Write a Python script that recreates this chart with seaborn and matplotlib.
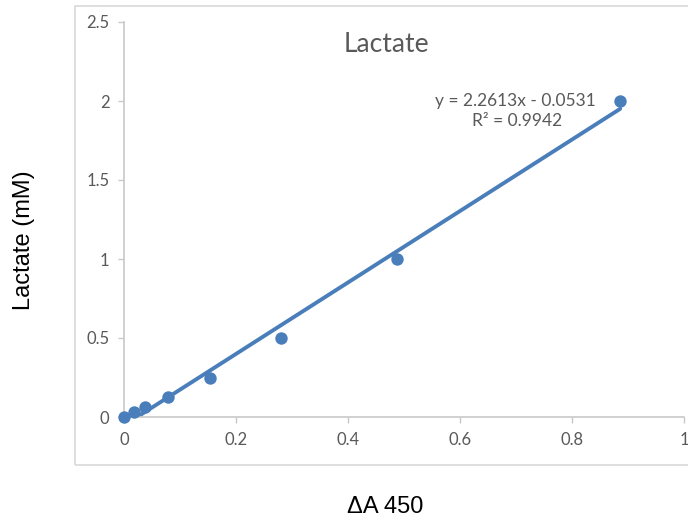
import matplotlib
matplotlib.use("Agg")
import matplotlib.pyplot as plt
import seaborn as sns
import pandas as pd
import numpy as np
from matplotlib.patches import Rectangle

# data
delta_a450 = [0.0, 0.018, 0.0375, 0.0786, 0.1536, 0.28, 0.4875, 0.886]
lactate_mM = [0.0, 0.03125, 0.0625, 0.125, 0.25, 0.5, 1.0, 2.0]
slope = 2.2613
intercept = -0.0531
r_squared = 0.9942
x_ticks = [0, 0.2, 0.4, 0.6, 0.8, 1]
x_tick_labels = ["0", "0.2", "0.4", "0.6", "0.8", "1"]
y_ticks = [0, 0.5, 1, 1.5, 2, 2.5]
y_tick_labels = ["0", "0.5", "1", "1.5", "2", "2.5"]

sns.set_theme(style="white")
plt.rcParams['font.family'] = ['Lato', 'DejaVu Sans']

df = pd.DataFrame({"x": delta_a450, "y": lactate_mM})
xs = np.array([min(delta_a450), max(delta_a450)])
trend = pd.DataFrame({"x": xs, "y": slope * xs + intercept})

blue = "#4a7ebb"
gray_text = "#595959"
axis_gray = "#c8c8c8"

W, H = 688, 521
fig = plt.figure(figsize=(W / 100, H / 100), dpi=100)
ax = fig.add_axes([124 / W, (H - 417) / H, 560 / W, (417 - 22) / H])

# chart area border
fig.patches.append(Rectangle((75 / W, (H - 465) / H), (700 - 75) / W, (465 - 6) / H,
                             transform=fig.transFigure, fill=False,
                             edgecolor="#d9d9d9", linewidth=1.2, zorder=0))

sns.lineplot(data=trend, x="x", y="y", ax=ax, color=blue, linewidth=2.8, zorder=2)
sns.scatterplot(data=df, x="x", y="y", ax=ax, color=blue, s=80, edgecolor=blue,
                linewidth=0, zorder=3, clip_on=False)

ax.set_xlim(0, 1)
ax.set_ylim(0, 2.5)
ax.set_xticks(x_ticks)
ax.set_xticklabels(x_tick_labels)
ax.set_yticks(y_ticks)
ax.set_yticklabels(y_tick_labels)
ax.set_xlabel("")
ax.set_ylabel("")

for s in ["top", "right"]:
    ax.spines[s].set_visible(False)
for s in ["left", "bottom"]:
    ax.spines[s].set_color(axis_gray)
    ax.spines[s].set_linewidth(1.2)
ax.tick_params(axis="both", direction="out", length=4.5, width=1.0, color=axis_gray,
               labelcolor=gray_text, labelsize=12, bottom=True, left=True)
ax.tick_params(axis="x", pad=6)
ax.tick_params(axis="y", pad=6)
ax.patch.set_alpha(0)

fig.text(386 / W, 1 - 52 / H, "Lactate", ha="center", va="baseline",
         fontsize=19, color=gray_text)
fig.text(515 / W, 1 - 101 / H, f"y = {slope}x - {abs(intercept)}",
         ha="center", va="center", fontsize=12.5, color=gray_text)
fig.text(517 / W, 1 - 121 / H, f"R² = {r_squared}",
         ha="center", va="center", fontsize=12.5, color=gray_text)

fig.text(24 / W, 1 - 240 / H, "Lactate (mM)", rotation=90, ha="center", va="center",
         fontsize=17, color="black", family=["Liberation Sans", "DejaVu Sans"])
fig.text(385 / W, 1 - 507 / H, "ΔA 450", ha="center", va="center",
         fontsize=17, color="black", family=["Liberation Sans", "DejaVu Sans"])

fig.savefig("out.png", dpi=100)
